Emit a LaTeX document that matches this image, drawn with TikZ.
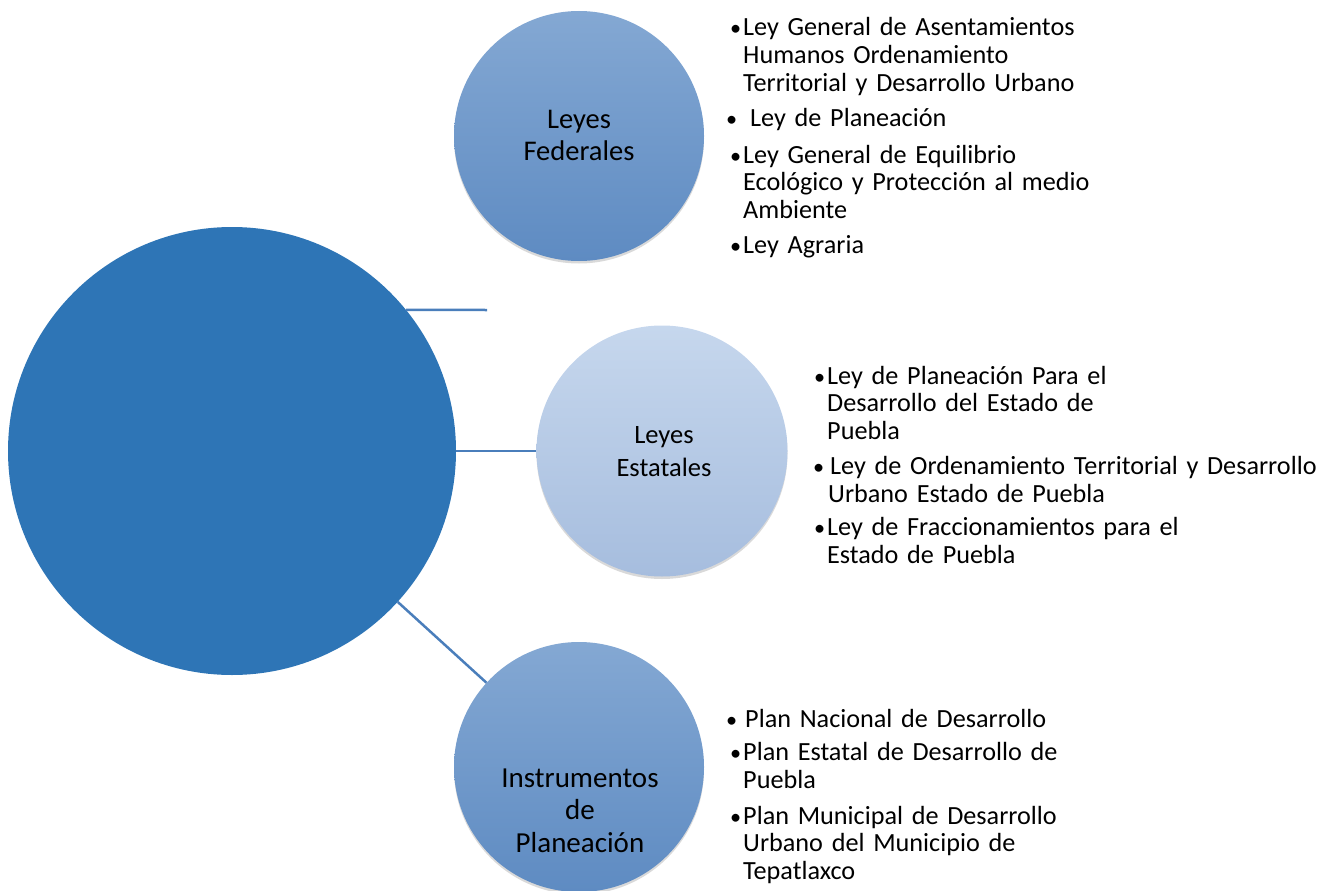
\documentclass[tikz,border=0pt]{standalone}
\usepackage{fontspec}
\setmainfont{Carlito}
\usetikzlibrary{shadows}
\definecolor{bigblue}{RGB}{46,117,182}
\definecolor{midtop}{RGB}{132,168,211}
\definecolor{midbot}{RGB}{94,139,194}
\definecolor{lighttop}{RGB}{198,215,237}
\definecolor{lightbot}{RGB}{166,189,222}
\definecolor{linkblue}{RGB}{74,126,187}
\newcommand\bul{\llap{\scalebox{0.85}{\textbullet}\hspace{2pt}}}
\newcommand\bulx[2]{\llap{\scalebox{0.85}{\textbullet}\hspace{#1}}\hspace*{#2}}
\tikzset{
  bubble/.style={circle, inner sep=0pt, draw=none,
    drop shadow={shadow xshift=0pt, shadow yshift=-2.5pt, opacity=0.15, fill=black}},
  midbubble/.style={bubble, top color=midtop, bottom color=midbot, minimum size=250pt},
  lightbubble/.style={bubble, top color=lighttop, bottom color=lightbot, minimum size=251pt},
  link/.style={draw=linkblue, line width=2.5pt},
  itemtxt/.style={anchor=base west, inner sep=0pt, text width=560pt, align=left,
    font=\fontsize{26.2}{27.8}\selectfont},
  lbl/.style={anchor=base, inner sep=0pt, align=center}
}
\begin{document}
\begin{tikzpicture}[x=1pt,y=-1pt]
\useasboundingbox (0,0) rectangle (1331,891);
% circles
\node[circle, inner sep=0pt, fill=bigblue, minimum size=448pt] (big) at (232,451) {};
\node[midbubble] (fed) at (579,136) {};
\node[lightbubble] (est) at (662,451) {};
\node[midbubble] (ins) at (579,767) {};
% connectors
\coordinate (c1) at (487,310);
\draw[link] (big.39) -- (c1);
\draw[link] (big) -- (est);
\draw[link] (big) -- (ins);
% circle labels (anchor = baseline of last line)
\node[lbl, font=\fontsize{28.5}{32}\selectfont] (fedl) at (579,160) {Leyes\\Federales};
\node[lbl, font=\fontsize{26.5}{33.3}\selectfont] (estl) at (664,476.7) {Leyes\\Estatales};
\node[lbl, font=\fontsize{29}{32.5}\selectfont] (insl) at (580,852) {Instrumentos\\de\\Planeación};
% Federales list
\node[itemtxt] (f1) at (743,35.5) {\bul Ley General de Asentamientos\\Humanos Ordenamiento\\Territorial y Desarrollo Urbano};
\node[itemtxt] (f2) at (743,126.5) {\bulx{6pt}{7pt}Ley de Planeación};
\node[itemtxt] (f3) at (743,163) {\bul Ley General de Equilibrio\\Ecológico y Protección al medio\\Ambiente};
\node[itemtxt] (f4) at (743,253.5) {\bul Ley Agraria};
% Estatales list
\node[itemtxt] (e1) at (827,384) {\bul Ley de Planeación Para el\\Desarrollo del Estado de\\Puebla};
\node[itemtxt] (e2) at (828,474.5) {\bulx{4pt}{2pt}Ley de Ordenamiento Territorial y Desarrollo\\Urbano Estado de Puebla};
\node[itemtxt] (e3) at (827,535.5) {\bul Ley de Fraccionamientos para el\\Estado de Puebla};
% Instrumentos list
\node[itemtxt] (i1) at (743,727.5) {\bulx{6pt}{2pt}Plan Nacional de Desarrollo};
\node[itemtxt] (i2) at (743,760.5) {\bul Plan Estatal de Desarrollo de\\Puebla};
\node[itemtxt] (i3) at (743,824) {\bul Plan Municipal de Desarrollo\\Urbano del Municipio de\\Tepatlaxco};
\end{tikzpicture}
\end{document}
